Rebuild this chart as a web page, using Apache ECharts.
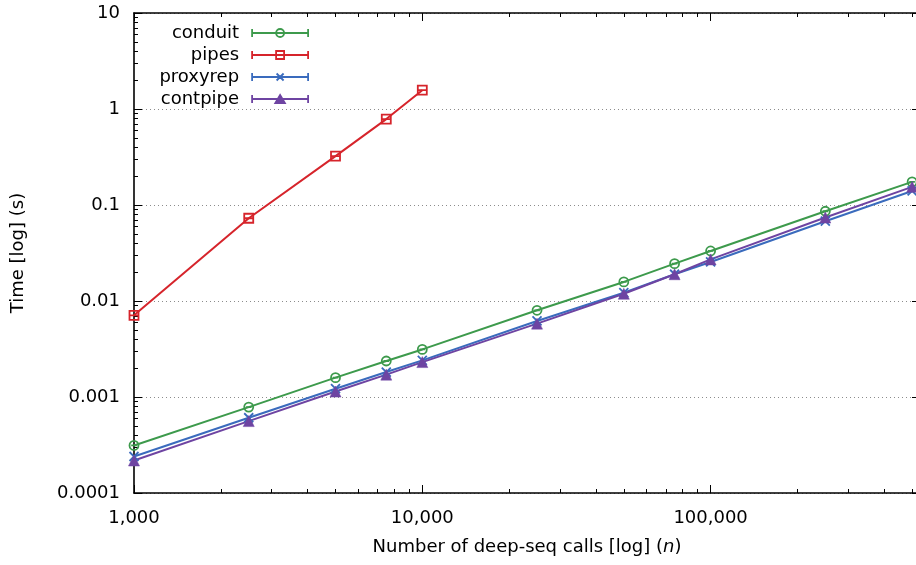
<!DOCTYPE html>
<html>
<head>
<meta charset="utf-8">
<script src="https://cdn.jsdelivr.net/npm/echarts@6/dist/echarts.min.js"></script>
<style>
html,body{margin:0;padding:0;background:#fff;}
#chart{width:916px;height:565px;}
</style>
</head>
<body>
<div id="chart"></div>
<script>
// ---- data ----
const callsN = [1000, 2500, 5000, 7500, 10000, 25000, 50000, 75000, 100000, 250000, 500000];
const pipesN = [1000, 2500, 5000, 7500, 10000];
const conduitTime  = [0.000313, 0.000785, 0.00159, 0.00237, 0.00313, 0.0080, 0.0158, 0.0245, 0.0332, 0.0861, 0.174];
const pipesTime    = [0.0071, 0.0728, 0.323, 0.785, 1.57];
const proxyrepTime = [0.00024, 0.000608, 0.00122, 0.00182, 0.00241, 0.0062, 0.0122, 0.0190, 0.0255, 0.0678, 0.140];
const contpipeTime = [0.000218, 0.000561, 0.00114, 0.00171, 0.00231, 0.00581, 0.0119, 0.0190, 0.0271, 0.0740, 0.1545];
const seriesNames = ['conduit', 'pipes', 'proxyrep', 'contpipe'];
const xTickLabels = ['1,000', '10,000', '100,000'];
const yTickLabels = ['0.0001', '0.001', '0.01', '0.1', '1', '10'];

// ---- styling ----
const FONT = 'DejaVu Sans';
const FS = 18;
const TXT = '#000';
const colors = {conduit: '#3d9a4c', pipes: '#d6242b', proxyrep: '#3a6bbd', contpipe: '#6e44a2'};
const X_MIN = 1000, X_MAX = 532500, Y_MIN = 0.0001, Y_MAX = 10;

const markerPath = {
  conduit: 'path://M0,4A4,4 0 1 1 8,4A4,4 0 1 1 0,4ZM1.5,4L6.5,4',
  pipes: 'path://M0,0L8,0L8,8L0,8ZM0,4L8,4',
  proxyrep: 'path://M0,0L8,8M8,0L0,8',
  contpipe: 'triangle'
};
const legendMarker = {
  conduit: 'M24,4A4,4 0 1 1 32,4A4,4 0 1 1 24,4ZM25.5,4L30.5,4',
  pipes: 'M24,0L32,0L32,8L24,8ZM24,4L32,4',
  proxyrep: 'M24.5,0.5L31.5,7.5M31.5,0.5L24.5,7.5',
  contpipe: 'M28,0L32.8,8L23.2,8Z'
};
function legendIcon(name) {
  return 'path://M0,0L0,8M0,4L56,4M56,0L56,8' + legendMarker[name];
}

function xLabel(v) {
  const e = Math.round(Math.log10(v));
  if (Math.abs(Math.log10(v) - e) > 1e-6) return '';
  return xTickLabels[e - 3] || '';
}
function yLabel(v) {
  const e = Math.round(Math.log10(v));
  if (Math.abs(Math.log10(v) - e) > 1e-6) return '';
  return yTickLabels[e + 4] || '';
}

function xAxisDef(pos, showLabel, name) {
  return {
    type: 'log', logBase: 10, position: pos, min: X_MIN, max: X_MAX,
    name: name || '', nameLocation: 'middle', nameGap: 45,
    nameTextStyle: {fontFamily: FONT, fontSize: FS, color: TXT, rich: {i: {fontFamily: FONT, fontSize: FS, fontStyle: 'italic', color: TXT}}},
    axisLine: {show: true, lineStyle: {color: '#000', width: 1.6}},
    axisTick: {show: true, inside: true, length: 8, lineStyle: {color: '#000', width: 1}},
    minorTick: {show: true, splitNumber: 9, length: 4, lineStyle: {color: '#000', width: 1}},
    axisLabel: {show: showLabel, formatter: xLabel, margin: 16, fontFamily: FONT, fontSize: FS, color: TXT},
    splitLine: {show: false}, minorSplitLine: {show: false}
  };
}
function yAxisDef(pos, showLabel, name) {
  return {
    type: 'log', logBase: 10, position: pos, min: Y_MIN, max: Y_MAX,
    name: name || '', nameLocation: 'middle', nameGap: 107, nameRotate: 90,
    nameTextStyle: {fontFamily: FONT, fontSize: FS, color: TXT},
    axisLine: {show: true, lineStyle: {color: '#000', width: 1.6}},
    axisTick: {show: true, inside: true, length: 8, lineStyle: {color: '#000', width: 1}},
    minorTick: {show: true, splitNumber: 9, length: 4, lineStyle: {color: '#000', width: 1}},
    axisLabel: {show: showLabel, formatter: yLabel, margin: 14, fontFamily: FONT, fontSize: FS, color: TXT},
    splitLine: {show: showLabel, lineStyle: {color: '#8c8c8c', width: 1, type: [1, 3]}},
    minorSplitLine: {show: false}
  };
}

function mkSeries(name, xs, ys) {
  const c = colors[name];
  const filled = name === 'contpipe';
  return {
    name: name, type: 'line', xAxisIndex: 0, yAxisIndex: 0,
    data: xs.map((x, i) => [x, ys[i]]),
    symbol: markerPath[name], symbolSize: name === 'contpipe' ? 11 : 9,
    showAllSymbol: true, clip: false,
    lineStyle: {color: c, width: 2},
    itemStyle: {color: filled ? c : 'rgba(0,0,0,0)', borderColor: c, borderWidth: filled ? 0.5 : 1.8},
    emphasis: {disabled: true},
    animation: false
  };
}

const chart = echarts.init(document.getElementById('chart'), null, {renderer: 'canvas'});
chart.setOption({
  animation: false,
  backgroundColor: '#fff',
  grid: {left: 134, right: -4, top: 13, bottom: 72, containLabel: false, outerBoundsMode: 'none'},
  legend: {
    orient: 'vertical', align: 'right', right: 607, top: 24, padding: 0,
    itemWidth: 56, itemHeight: 8, itemGap: 4, selectedMode: false,
    textStyle: {fontFamily: FONT, fontSize: FS, color: TXT, padding: [0, 8, 0, 0]},
    data: seriesNames.map(n => ({
      name: n, icon: legendIcon(n),
      itemStyle: {color: n === 'contpipe' ? colors[n] : 'rgba(0,0,0,0)', borderColor: colors[n], borderWidth: 1.8}
    }))
  },
  xAxis: [
    xAxisDef('bottom', true, 'Number of deep-seq calls [log] ({i|n})'),
    xAxisDef('top', false)
  ],
  yAxis: [
    yAxisDef('left', true, 'Time [log] (s)'),
    yAxisDef('right', false)
  ],
  series: [
    mkSeries('conduit', callsN, conduitTime),
    mkSeries('pipes', pipesN, pipesTime),
    mkSeries('proxyrep', callsN, proxyrepTime),
    mkSeries('contpipe', callsN, contpipeTime)
  ]
});
</script>
</body>
</html>
